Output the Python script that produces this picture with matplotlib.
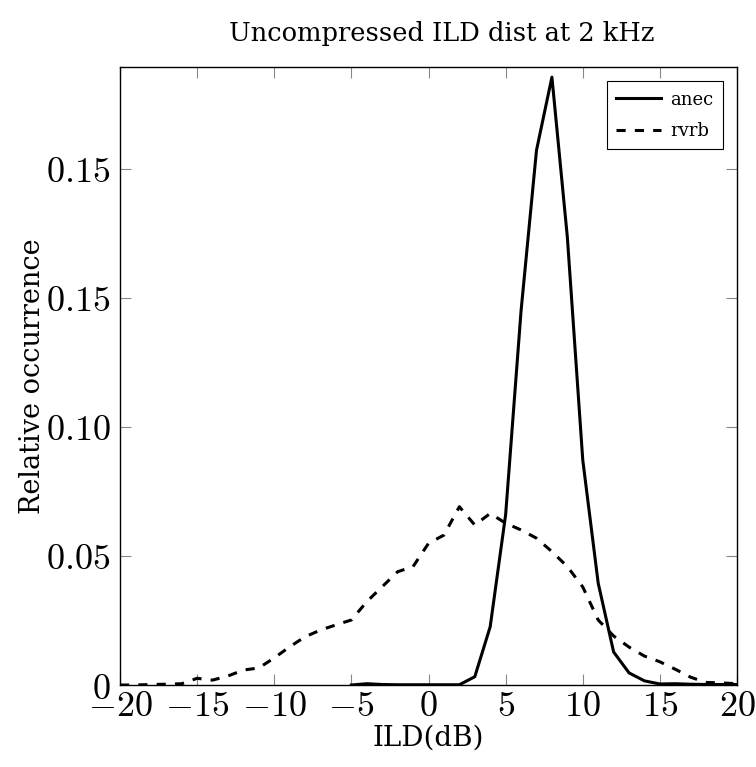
import matplotlib
matplotlib.use("Agg")
import matplotlib.pyplot as plt
import numpy as np

plt.rcParams['mathtext.fontset'] = 'cm'

# ILD bins (dB)
ild_anec = np.arange(-5, 21)
anec = [0.0, 0.0005, 0.0002, 0.0001, 0.0001, 0.0001, 0.0001, 0.0001, 0.0032, 0.0226,
        0.066, 0.145, 0.2072, 0.2356, 0.1736, 0.0872, 0.0395, 0.0128, 0.0047, 0.0016,
        0.0004, 0.0005, 0.0003, 0.0002, 0.0002, 0.0002]

ild_rvrb = np.arange(-20, 21)
rvrb = [0.0, 0.0, 0.0002, 0.0003, 0.0005, 0.0026, 0.0019, 0.0035, 0.0058, 0.0066,
        0.0105, 0.0148, 0.0187, 0.0213, 0.0233, 0.0252, 0.0323, 0.0381, 0.0439, 0.0459,
        0.0549, 0.0581, 0.0691, 0.062, 0.0665, 0.0627, 0.0601, 0.0569, 0.0517, 0.0459,
        0.0380, 0.0252, 0.019, 0.0147, 0.0112, 0.009, 0.0061, 0.003, 0.001, 0.0008, 0.0005]

xticks = [-20, -15, -10, -5, 0, 5, 10, 15, 20]
yticks = [0, 0.05, 0.10, 0.15, 0.20]
ytick_labels = ['0', '0.05', '0.10', '0.15', '0.15']

fig = plt.figure(figsize=(7.56, 7.67), dpi=100)
ax = fig.add_axes([0.1587, 0.1069, 0.8162, 0.8057])

ax.plot(ild_anec, anec, 'k-', lw=2.2, label='anec')
ax.plot(ild_rvrb, rvrb, 'k--', lw=2.2, dashes=(3, 3), label='rvrb')

ax.set_xlim(-20, 20)
ax.set_ylim(0, 0.2395)
ax.set_xticks(xticks)
ax.set_xticklabels(['$%d$' % t for t in xticks])
ax.set_yticks(yticks)
ax.set_yticklabels(['$%s$' % s for s in ytick_labels])
ax.tick_params(direction='in', length=8, width=0.8, color='#888888',
               top=True, right=True, labelsize=26)
ax.tick_params(axis='y', pad=7)
ax.tick_params(axis='x', pad=3)

for s in ax.spines.values():
    s.set_linewidth(1.0)

ax.set_title('Uncompressed ILD dist at 2 kHz', family='DejaVu Serif',
             fontsize=18.5, pad=19, x=0.522)
ax.set_xlabel('ILD(dB)', family='DejaVu Serif', fontsize=20, labelpad=1)
ax.set_ylabel('Relative occurrence', family='DejaVu Serif', fontsize=19.5, labelpad=0)

leg = ax.legend(loc='upper right', fancybox=False, framealpha=1,
                edgecolor='black', handlelength=2.5, borderaxespad=0.8,
                labelspacing=0.75, handletextpad=0.5, borderpad=0.5,
                prop={'family': 'DejaVu Serif', 'size': 13})
leg.get_frame().set_linewidth(0.8)

fig.savefig('out.png', dpi=100)
